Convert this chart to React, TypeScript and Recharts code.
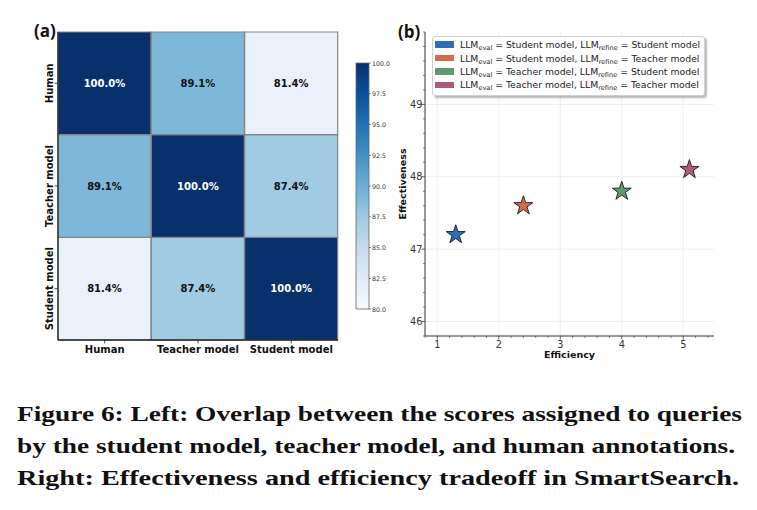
import React from 'react';
import {
  BarChart,
  Bar,
  Cell,
  LabelList,
  XAxis,
  YAxis,
  ScatterChart,
  Scatter,
  CartesianGrid,
  Legend,
  Label,
  Symbols,
} from 'recharts';

// ---- overlap heatmap ----
const heatRows = ['Human', 'Teacher model', 'Student model'];
const heatCols = ['Human', 'Teacher model', 'Student model'];
const overlap = [
  [100.0, 89.1, 81.4],
  [89.1, 100.0, 87.4],
  [81.4, 87.4, 100.0],
];
const colorbarTicks = [80, 82.5, 85, 87.5, 90, 92.5, 95, 97.5, 100];

// ---- tradeoff scatter ----
const evalModels = ['Student model', 'Student model', 'Teacher model', 'Teacher model'];
const refineModels = ['Student model', 'Teacher model', 'Student model', 'Teacher model'];
const efficiency = [1.3, 2.4, 4.0, 5.1];
const effectiveness = [47.2, 47.6, 47.8, 48.1];
const seriesColors = ['#2f6eb6', '#d6694e', '#5e9971', '#b2597b'];
const xMajor = [1, 2, 3, 4, 5];
const yMajor = [46, 47, 48, 49];

const FONT = '"DejaVu Sans", sans-serif';

// matplotlib "Blues"
const BLUES = ['#f7fbff', '#deebf7', '#c6dbef', '#9ecae1', '#6baed6', '#4292c6', '#2171b5', '#08519c', '#08306b'];

const hex = (c: string) => [1, 3, 5].map((i) => parseInt(c.slice(i, i + 2), 16));
const blues = (t: number) => {
  const s = Math.max(0, Math.min(1, t)) * (BLUES.length - 1);
  const i = Math.min(Math.floor(s), BLUES.length - 2);
  const f = s - i;
  const a = hex(BLUES[i]);
  const b = hex(BLUES[i + 1]);
  const m = a.map((v, k) => Math.round(v + (b[k] - v) * f));
  return `rgb(${m[0]},${m[1]},${m[2]})`;
};
const norm = (v: number) => (v - 80) / 20;

// each column is a stack of unit cells, one per row
const heatData = heatCols.map((col) => {
  const d: any = { col };
  heatRows.forEach((r) => (d[r] = 1));
  return d;
});

const minorTicks = (lo: number, hi: number, step: number) => {
  const out: number[] = [];
  for (let v = lo; v <= hi + 1e-9; v += step) out.push(Number(v.toFixed(1)));
  return out;
};
const xTicks = minorTicks(0.8, 5.4, 0.2);
const yTicks = minorTicks(45.8, 50.0, 0.2);

const HeatXTick = (props: any) => {
  const { x, y, payload } = props;
  return (
    <g>
      <line x1={x} x2={x} y1={y} y2={y + 3.5} stroke="#222" strokeWidth={0.8} />
      <text x={x} y={y + 12.5} textAnchor="middle" fontSize={10} fontWeight="bold" fill="#111" fontFamily={FONT}>
        {payload.value}
      </text>
    </g>
  );
};

const HeatYTick = (props: any) => {
  const { x, y, payload } = props;
  const name = heatRows[heatRows.length - 1 - Math.floor(payload.value)];
  return (
    <g>
      <line x1={x} x2={x - 3.5} y1={y} y2={y} stroke="#222" strokeWidth={0.8} />
      <text
        transform={`translate(${x - 8.5},${y}) rotate(-90)`}
        textAnchor="middle"
        dominantBaseline="central"
        fontSize={10}
        fontWeight="bold"
        fill="#111"
        fontFamily={FONT}
      >
        {name}
      </text>
    </g>
  );
};

const cellLabel = (ri: number) => (p: any) => {
  const x = Number(p.x);
  const y = Number(p.y);
  const w = Number(p.width);
  const h = Number(p.height);
  const v = overlap[ri][p.index];
  return (
    <text
      x={x + w / 2}
      y={y + h / 2}
      textAnchor="middle"
      dominantBaseline="central"
      fontSize={10}
      fontWeight="bold"
      fill={v > 95 ? '#ffffff' : '#111111'}
      fontFamily={FONT}
    >
      {v.toFixed(1)}%
    </text>
  );
};

const Heatmap = () => {
  // bottom of the stack first
  const order = [...heatRows].reverse();
  return (
    <BarChart
      width={400}
      height={370}
      data={heatData}
      margin={{ top: 32, right: 62, bottom: 0, left: 0 }}
      barCategoryGap={0}
      barGap={0}
    >
      <XAxis dataKey="col" height={30} tick={<HeatXTick />} tickLine={false} tickSize={0} tickMargin={0} interval={0} axisLine={{ stroke: '#222', strokeWidth: 1.3 }} />
      <YAxis type="number" domain={[0, 3]} ticks={[0.5, 1.5, 2.5]} width={58} tick={<HeatYTick />} tickLine={false} tickSize={0} tickMargin={0} interval={0} axisLine={{ stroke: '#222', strokeWidth: 1.3 }} />
      <XAxis xAxisId="frame" orientation="top" dataKey="col" height={0} tick={false} tickLine={false} axisLine={{ stroke: '#222', strokeWidth: 1.3 }} />
      <YAxis yAxisId="frame" orientation="right" width={0} tick={false} tickLine={false} axisLine={{ stroke: '#222', strokeWidth: 1.3 }} />
      {order.map((row) => {
        const ri = heatRows.indexOf(row);
        return (
          <Bar key={row} dataKey={row} stackId="m" isAnimationActive={false} stroke="#858585" strokeWidth={1.2}>
            {heatCols.map((c, ci) => (
              <Cell key={c} fill={blues(norm(overlap[ri][ci]))} />
            ))}
            <LabelList content={cellLabel(ri)} />
          </Bar>
        );
      })}
    </BarChart>
  );
};

const CbTick = (props: any) => {
  const { x, y, payload } = props;
  return (
    <g>
      <line x1={x} x2={x + 2} y1={y} y2={y} stroke="#333" strokeWidth={0.6} />
      <text x={x + 3} y={y} dominantBaseline="central" fontSize={6.3} fill="#333" fontFamily={FONT}>
        {payload.value.toFixed(1)}
      </text>
    </g>
  );
};

const Colorbar = () => (
  <BarChart
    width={60}
    height={270}
    data={[{ name: 'scale', range: [80, 100] }]}
    margin={{ top: 13, right: 0, bottom: 11, left: 16 }}
    barCategoryGap={0}
  >
    <defs>
      <linearGradient id="bluesGrad" x1="0" y1="1" x2="0" y2="0">
        {BLUES.map((c, i) => (
          <stop key={c} offset={i / (BLUES.length - 1)} stopColor={c} />
        ))}
      </linearGradient>
    </defs>
    <XAxis dataKey="name" hide />
    <YAxis orientation="right" type="number" domain={[80, 100]} ticks={colorbarTicks} width={31} interval={0} tick={<CbTick />} tickSize={0} tickMargin={0} tickLine={false} axisLine={false} />
    <Bar dataKey="range" fill="url(#bluesGrad)" stroke="#666" strokeWidth={0.8} isAnimationActive={false} />
  </BarChart>
);

const ScatterXTick = (props: any) => {
  const { x, y, payload } = props;
  const major = xMajor.includes(payload.value);
  return (
    <g>
      <line x1={x} x2={x} y1={y} y2={y + (major ? 3.5 : 2)} stroke="#333" strokeWidth={major ? 0.8 : 0.6} />
      {major && (
        <text x={x} y={y + 11.5} textAnchor="middle" fontSize={9.8} fill="#333" fontFamily={FONT}>
          {payload.value}
        </text>
      )}
    </g>
  );
};

const ScatterYTick = (props: any) => {
  const { x, y, payload } = props;
  const major = yMajor.includes(payload.value);
  return (
    <g>
      <line x1={x} x2={x - (major ? 3.5 : 2)} y1={y} y2={y} stroke="#333" strokeWidth={major ? 0.8 : 0.6} />
      {major && (
        <text x={x - 2.5} y={y} textAnchor="end" dominantBaseline="central" fontSize={9.8} fill="#333" fontFamily={FONT}>
          {payload.value}
        </text>
      )}
    </g>
  );
};

const Sub = ({ children }: { children: React.ReactNode }) => (
  <sub style={{ fontSize: 6.6, lineHeight: 0, verticalAlign: -1.5 }}>{children}</sub>
);

const renderLegend = () => (
  <div
    style={{
      border: '1px solid #cfcfcf',
      borderRadius: 3,
      background: '#fff',
      boxShadow: '2px 2px 2px rgba(0,0,0,0.28)',
      padding: '1px 4px 3px 2px',
      fontFamily: FONT,
      fontSize: 9.3,
      color: '#222',
      whiteSpace: 'nowrap',
    }}
  >
    {evalModels.map((m, i) => (
      <div key={i} style={{ display: 'flex', alignItems: 'center', height: 13.4 }}>
        <span style={{ display: 'inline-block', width: 19, height: 6.5, background: seriesColors[i], marginRight: 6 }} />
        <span>
          LLM<Sub>eval</Sub> = {m}, LLM<Sub>refine</Sub> = {refineModels[i]}
        </span>
      </div>
    ))}
  </div>
);

const Tradeoff = () => (
  <ScatterChart width={377} height={370} margin={{ top: 32, right: 43, bottom: 0, left: 0 }}>
    <CartesianGrid stroke="#ebebeb" strokeWidth={0.8} verticalValues={xMajor} horizontalValues={yMajor} />
    <XAxis
      type="number"
      dataKey="x"
      domain={[0.8, 5.5]}
      ticks={xTicks}
      interval={0}
      height={34}
      tick={<ScatterXTick />}
      tickLine={false}
      tickSize={0}
      tickMargin={0}
      axisLine={{ stroke: '#333', strokeWidth: 1 }}
      allowDataOverflow
    >
      <Label value="Efficiency" position="insideBottom" offset={12} fontSize={9.5} fontWeight="bold" fill="#111" fontFamily={FONT} />
    </XAxis>
    <YAxis
      type="number"
      dataKey="y"
      domain={[45.8, 50]}
      ticks={yTicks}
      interval={0}
      width={45}
      tick={<ScatterYTick />}
      tickLine={false}
      tickSize={0}
      tickMargin={0}
      axisLine={{ stroke: '#333', strokeWidth: 1 }}
      allowDataOverflow
    >
      <Label
        content={(p: any) => {
          const vb = p.viewBox || { x: 0, y: 32, width: 45, height: 304 };
          return (
            <text
              transform={`translate(${vb.x + 22},${vb.y + vb.height / 2}) rotate(-90)`}
              textAnchor="middle"
              dominantBaseline="central"
              fontSize={9.5}
              fontWeight="bold"
              fill="#111"
              fontFamily={FONT}
            >
              Effectiveness
            </text>
          );
        }}
      />
    </YAxis>
    <XAxis xAxisId="frame" orientation="top" type="number" domain={[0.8, 5.5]} height={0} tick={false} tickLine={false} axisLine={{ stroke: '#333', strokeWidth: 1 }} />
    <YAxis yAxisId="frame" orientation="right" type="number" domain={[45.8, 50]} width={0} tick={false} tickLine={false} axisLine={{ stroke: '#333', strokeWidth: 1 }} />
    <Legend layout="vertical" align="center" verticalAlign="middle" wrapperStyle={{ left: 52, top: 36, width: 'auto', height: 'auto' }} content={renderLegend} />
    {efficiency.map((x, i) => (
      <Scatter
        key={i}
        name={`${evalModels[i]} / ${refineModels[i]}`}
        data={[{ x, y: effectiveness[i] }]}
        fill={seriesColors[i]}
        isAnimationActive={false}
        shape={(p: any) => (
          <Symbols cx={p.cx} cy={p.cy} type="star" size={112} fill={seriesColors[i]} stroke="#1a1a1a" strokeWidth={0.9} />
        )}
      />
    ))}
  </ScatterChart>
);

const captionLines = [
  'Figure 6: Left: Overlap between the scores assigned to queries',
  'by the student model, teacher model, and human annotations.',
  'Right: Effectiveness and efficiency tradeoff in SmartSearch.',
];
const captionWidths = [725, 718, 722];

export default function App() {
  return (
    <div
      style={{
        position: 'absolute',
        left: 0,
        top: 0,
        width: 757,
        height: 510,
        background: '#fff',
        overflow: 'hidden',
        fontFamily: FONT,
      }}
    >
      <div style={{ position: 'absolute', left: 0, top: 0 }}>
        <Heatmap />
      </div>
      <div style={{ position: 'absolute', left: 340, top: 50 }}>
        <Colorbar />
      </div>
      <div style={{ position: 'absolute', left: 380, top: 0 }}>
        <Tradeoff />
      </div>
      <svg width={757} height={510} style={{ position: 'absolute', left: 0, top: 0, pointerEvents: 'none' }}>
        <text x={34} y={37} fontSize={17} fontWeight="bold" fill="#111" fontFamily='"Open Sans", sans-serif'>(a)</text>
        <text x={398} y={38} fontSize={17} fontWeight="bold" fill="#111" fontFamily='"Open Sans", sans-serif'>(b)</text>
        {captionLines.map((t, i) => (
          <text
            key={i}
            x={17}
            y={421 + i * 32}
            fontSize={21.5}
            fontWeight="bold"
            fill="#111"
            fontFamily='"Liberation Serif", serif'
            textLength={captionWidths[i]}
            lengthAdjust="spacingAndGlyphs"
          >
            {t}
          </text>
        ))}
      </svg>
    </div>
  );
}
